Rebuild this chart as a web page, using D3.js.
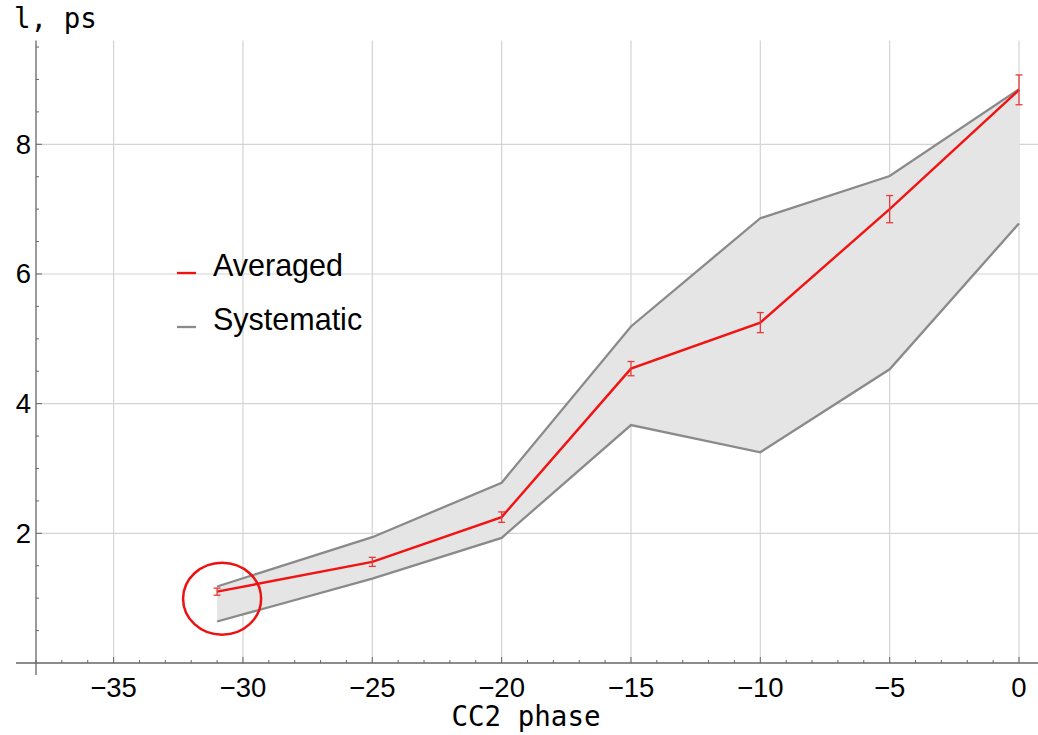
<!DOCTYPE html>
<html>
<head>
<meta charset="utf-8">
<script src="https://cdn.jsdelivr.net/npm/d3@7"></script>
<style>
  body { margin: 0; background: #fff; }
  svg { display: block; }
</style>
</head>
<body>
<svg width="1038" height="735"></svg>
<script>
var phase = [-31, -25, -20, -15, -10, -5, 0];
var averaged = [1.10, 1.56, 2.25, 4.54, 5.25, 7.00, 8.84];
var avgError = [0.055, 0.07, 0.08, 0.11, 0.155, 0.21, 0.23];
var sysUpper = [1.18, 1.94, 2.78, 5.19, 6.86, 7.51, 8.85];
var sysLower = [0.64, 1.30, 1.93, 3.67, 3.25, 4.53, 6.78];
var xTicks = [-35, -30, -25, -20, -15, -10, -5, 0];
var yTicks = [2, 4, 6, 8];
var legendLabels = ["Averaged", "Systematic"];

var svg = d3.select("svg"),
    width = +svg.attr("width"),
    height = +svg.attr("height");

var x = d3.scaleLinear().domain([-38, 0]).range([36, 1019]);
var y = d3.scaleLinear().domain([0, 8]).range([663, 144.3]);

var red = "#f21212", gray = "#8a8a8a";
var tickFont = "Liberation Sans, Arial, sans-serif";
var monoFont = "DejaVu Sans Mono, monospace";

var data = phase.map(function (p, i) {
    return { x: p, avg: averaged[i], err: avgError[i], hi: sysUpper[i], lo: sysLower[i] };
});

// grid
var grid = svg.append("g").attr("class", "grid");
grid.selectAll("line.v")
    .data(xTicks)
    .enter().append("line")
    .attr("x1", function (d) { return x(d); })
    .attr("x2", function (d) { return x(d); })
    .attr("y1", y(9.6))
    .attr("y2", y(0))
    .style("stroke", "#d4d4d4")
    .style("stroke-width", 1.2);
grid.selectAll("line.h")
    .data(yTicks)
    .enter().append("line")
    .attr("x1", x(-38))
    .attr("x2", width)
    .attr("y1", function (d) { return y(d); })
    .attr("y2", function (d) { return y(d); })
    .style("stroke", "#d4d4d4")
    .style("stroke-width", 1.2);

// systematic band
svg.append("path")
    .datum(data)
    .attr("d", d3.area()
        .x(function (d) { return x(d.x); })
        .y0(function (d) { return y(d.lo); })
        .y1(function (d) { return y(d.hi); }))
    .style("fill", "#e5e5e5")
    .style("stroke", "none");

["hi", "lo"].forEach(function (k) {
    svg.append("path")
        .datum(data)
        .attr("d", d3.line()
            .x(function (d) { return x(d.x); })
            .y(function (d) { return y(d[k]); }))
        .style("fill", "none")
        .style("stroke", gray)
        .style("stroke-width", 2.3);
});

// averaged line
svg.append("path")
    .datum(data)
    .attr("d", d3.line()
        .x(function (d) { return x(d.x); })
        .y(function (d) { return y(d.avg); }))
    .style("fill", "none")
    .style("stroke", red)
    .style("stroke-width", 2.4);

// error bars
var eb = svg.append("g").attr("class", "errorbars")
    .selectAll("g")
    .data(data)
    .enter().append("g")
    .style("stroke", "#e53a3a")
    .style("stroke-width", 1.3);
eb.append("line")
    .attr("x1", function (d) { return x(d.x); })
    .attr("x2", function (d) { return x(d.x); })
    .attr("y1", function (d) { return y(d.avg - d.err); })
    .attr("y2", function (d) { return y(d.avg + d.err); });
eb.append("line")
    .attr("x1", function (d) { return x(d.x) - 3.5; })
    .attr("x2", function (d) { return x(d.x) + 3.5; })
    .attr("y1", function (d) { return y(d.avg - d.err); })
    .attr("y2", function (d) { return y(d.avg - d.err); });
eb.append("line")
    .attr("x1", function (d) { return x(d.x) - 3.5; })
    .attr("x2", function (d) { return x(d.x) + 3.5; })
    .attr("y1", function (d) { return y(d.avg + d.err); })
    .attr("y2", function (d) { return y(d.avg + d.err); });

// axes
var axisColor = "#666";
svg.append("line")
    .attr("x1", 16).attr("x2", width)
    .attr("y1", y(0)).attr("y2", y(0))
    .style("stroke", axisColor).style("stroke-width", 1.3);
svg.append("line")
    .attr("x1", x(-38)).attr("x2", x(-38))
    .attr("y1", y(0) + 12).attr("y2", y(9.6))
    .style("stroke", axisColor).style("stroke-width", 1.3);

var xMinor = d3.range(-38, 1, 1);
svg.append("g").selectAll("line")
    .data(xMinor)
    .enter().append("line")
    .attr("x1", function (d) { return x(d); })
    .attr("x2", function (d) { return x(d); })
    .attr("y1", y(0))
    .attr("y2", function (d) { return d % 5 == 0 ? y(0) - 6 : y(0) - 3; })
    .style("stroke", axisColor).style("stroke-width", 1);

var yMinor = d3.range(0.5, 9.6, 0.5);
svg.append("g").selectAll("line")
    .data(yMinor)
    .enter().append("line")
    .attr("x1", x(-38))
    .attr("x2", function (d) { return d % 2 == 0 ? x(-38) + 6 : x(-38) + 3; })
    .attr("y1", function (d) { return y(d); })
    .attr("y2", function (d) { return y(d); })
    .style("stroke", axisColor).style("stroke-width", 1);

svg.append("g").selectAll("text")
    .data(xTicks)
    .enter().append("text")
    .attr("x", function (d) { return x(d); })
    .attr("y", 697)
    .attr("text-anchor", "middle")
    .style("font-family", tickFont)
    .style("font-size", "27.5px")
    .text(function (d) { return d < 0 ? "\u2212" + Math.abs(d) : d; });

svg.append("g").selectAll("text")
    .data(yTicks)
    .enter().append("text")
    .attr("x", 31)
    .attr("y", function (d) { return y(d) + 9.5; })
    .attr("text-anchor", "end")
    .style("font-family", tickFont)
    .style("font-size", "27.5px")
    .text(function (d) { return d; });

// axis labels
svg.append("text")
    .attr("x", 14).attr("y", 28)
    .style("font-family", monoFont)
    .style("font-size", "27.5px")
    .text("l, ps");
svg.append("text")
    .attr("x", 526).attr("y", 726)
    .attr("text-anchor", "middle")
    .style("font-family", monoFont)
    .style("font-size", "27.5px")
    .text("CC2 phase");

// legend
var legend = svg.append("g").selectAll("g")
    .data(legendLabels)
    .enter().append("g")
    .attr("transform", function (d, i) { return "translate(177," + (273 + i * 54) + ")"; });
legend.append("line")
    .attr("x1", 0).attr("x2", 19)
    .style("stroke", function (d, i) { return i == 0 ? red : gray; })
    .style("stroke-width", 2.3);
legend.append("text")
    .attr("x", 36).attr("y", 3)
    .style("font-family", tickFont)
    .style("font-size", "30.5px")
    .text(function (d) { return d; });

// highlight circle around first point
svg.append("ellipse")
    .attr("cx", x(phase[0]) + 5)
    .attr("cy", y(averaged[0]) + 7)
    .attr("rx", 39)
    .attr("ry", 36)
    .style("fill", "none")
    .style("stroke", "#ee1111")
    .style("stroke-width", 2.5);
</script>
</body>
</html>
